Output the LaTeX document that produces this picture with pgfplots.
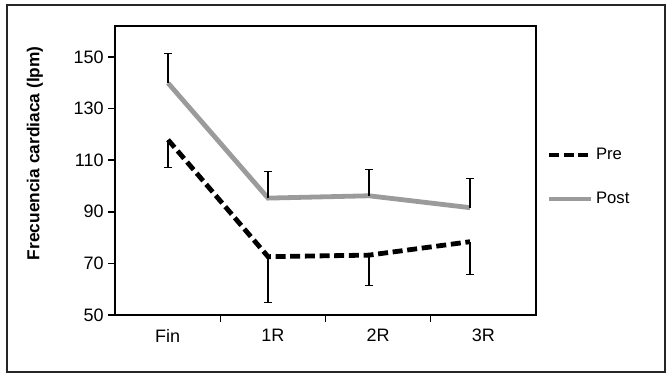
\documentclass[border=0pt]{standalone}
\usepackage{pgfplots}
\pgfplotsset{compat=1.18}
\usepackage{fontspec}
\setmainfont{Liberation Sans}
\definecolor{postgray}{RGB}{155,155,155}
\begin{document}
\begin{tikzpicture}
\path[use as bounding box] (-86.25pt,-44.25pt) rectangle (413.25pt,236.25pt);
\begin{axis}[
  at={(0pt,0pt)}, anchor=south west,
  scale only axis, width=315.75pt, height=216.75pt,
  xmin=0, xmax=4, ymin=50, ymax=162,
  axis line style={line width=1.1pt},
  xtick={0.5,1.5,2.5,3.5}, xticklabels={Fin,1R,2R,3R},
  major x tick style={draw=none},
  minor xtick={1,2,3},
  minor x tick style={black, line width=1.1pt},
  minor tick length=5pt,
  ytick={50,70,90,110,130,150},
  major tick length=5pt,
  tick align=outside,
  xtick pos=bottom, ytick pos=left,
  y tick style={black, line width=1.1pt},
  /pgf/number format/assume math mode=true,
  tick label style={font=\fontsize{13.5}{15}\selectfont},
  xticklabel style={yshift=-2pt},
  ylabel={\bfseries Frecuencia cardiaca (lpm)},
  ylabel style={font=\fontsize{13}{15}\selectfont, at={(axis description cs:-0.19,0.56)}, anchor=center},
  legend style={draw=none, fill=none, at={(rel axis cs:1.015,0.4775)}, anchor=west,
    font=\fontsize{12.5}{14}\selectfont, row sep=19pt},
  legend cell align=left,
  legend image code/.code={\draw[#1] (0pt,0pt) -- (31.5pt,0pt);},
]
\addplot[black, line width=3.6pt, dash pattern=on 7.5pt off 3.5pt,
  error bars/.cd, y dir=minus, y explicit,
  error bar style={black, line width=0.9pt, solid},
  error mark options={black, line width=0.9pt, mark size=2.8pt, solid, rotate=90}]
  coordinates {
  (0.504,117.9) -= (0,10.7)
  (1.454,72.6) -= (0,17.7)
  (2.413,73.2) -= (0,11.9)
  (3.373,78.4) -= (0,12.6)
  };
\addlegendentry{Pre}
\addplot[postgray, line width=3.6pt,
  error bars/.cd, y dir=plus, y explicit,
  error bar style={black, line width=0.9pt, solid},
  error mark options={black, line width=0.9pt, mark size=2.8pt, solid, rotate=90}]
  coordinates {
  (0.504,139.9) += (0,11.3)
  (1.454,95.3) += (0,10.3)
  (2.413,96.2) += (0,10.1)
  (3.373,91.6) += (0,11.2)
  };
\addlegendentry{Post}
\end{axis}
\draw[line width=1.5pt, black!85] (-81pt,-43pt) rectangle (412.5pt,232.5pt);
\end{tikzpicture}
\end{document}
